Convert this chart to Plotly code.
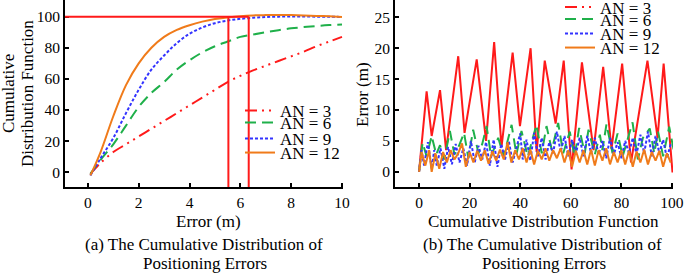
import plotly.graph_objects as go

W, H = 685, 274

# ---------- Left chart data: CDF of positioning errors ----------
err_x = [0.1, 0.5, 1, 1.5, 2, 2.5, 3, 3.5, 4, 4.5, 5, 5.5, 6, 6.5, 7, 7.5, 8, 8.5, 9, 9.5, 10]
cdf_an3 = [-1, 6, 13, 18, 23, 28, 33, 38, 43, 48, 53, 58, 62, 65.5, 68.5, 71.5, 74.5, 77.5, 81, 84, 87]
cdf_an6 = [-1, 8, 18, 30, 42, 51, 58, 66, 72, 77, 81, 84, 87, 88.5, 90, 91.3, 92.5, 93.3, 94, 94.6, 95]
cdf_an9 = [-2, 9, 22, 38, 53, 66, 75, 83, 89, 93, 95.8, 97.5, 98.6, 99.3, 99.8, 100, 100.1, 100.1, 100, 100, 99.8]
cdf_an12 = [-2, 13, 36, 56, 70, 80, 87, 91.5, 94.5, 96.8, 98.5, 99.5, 100.3, 100.8, 101, 101.1, 101, 100.8, 100.5, 100.2, 99.8]
ref_level = 100
ref_errors = [5.53, 6.33]

# ---------- Right chart data: error vs CDF ----------
an3_x = [0, 3.0, 5.0, 8.3, 10.7, 15.5, 18.0, 22.8, 26.5, 29.7, 32.6, 37.0, 39.9, 44.1, 46.5,
         49.7, 54.0, 57.2, 60.3, 64.4, 69.0, 72.8, 76.1, 80.3, 83.8, 90.3, 94.3, 96.7, 100.2]
an3_y = [0, 13.0, 5.8, 13.2, 3.5, 18.7, 6.3, 18.2, 5.0, 21.0, 4.0, 19.3, 7.4, 20.0, 3.2,
         18.0, 7.8, 18.0, 0.4, 17.7, 3.5, 17.0, 3.7, 17.5, 1.5, 18.0, 5.5, 17.5, -0.1]

an6_x = [0, 1.4, 3, 5, 6.8, 8.3, 10, 12.2, 14, 15.8, 17.8, 19.5, 21.4, 23.5, 25, 26.7, 28.5,
         31.3, 33.5, 36.6, 38.5, 40.5, 43, 46.4, 48.5, 50.4, 52.5, 55, 57, 59.6, 61.5, 63.3,
         65.5, 67, 69.5, 71.5, 72.5, 74.1, 76.5, 78.5, 80.5, 82.5, 84.4, 86.5, 88.5, 91.2,
         93, 94.5, 96.5, 98.9, 101]
an6_y = [0, 4.7, 2.5, 5.8, 2.8, 4.3, 2.0, 6.6, 2.8, 4.2, 6.3, 2.2, 6.8, 3.0, 4.5, 7.4, 2.5,
         5.5, 2.5, 7.6, 2.8, 6.6, 2.5, 7.6, 3.0, 7.4, 3.5, 7.9, 3.0, 6.5, 2.5, 7.1,
         3.0, 6.8, 2.8, 6.0, 3.5, 7.7, 3.0, 6.2, 2.5, 5.5, 8.0, 2.0, 5.5, 7.0,
         3.0, 6.5, 2.5, 7.3, 2.8]

an9_x = [0, 1, 2, 3.5, 5, 6, 7, 8.5, 10, 11.5, 13, 14.5, 16, 17.5, 19, 20.5, 22, 23.5, 25,
         26.5, 28, 29.5, 31, 32.5, 34, 35.5, 37, 38.5, 40, 41, 42.5, 44, 45.5, 47, 48.5, 50,
         51.5, 53, 54.5, 56, 57.5, 59, 60.5, 62, 63.5, 65, 66.5, 68, 69.5, 71, 72.5, 74,
         75.5, 77, 78.5, 80, 81.5, 83, 84.5, 86, 87.5, 89, 90.5, 92, 93.5, 95, 96.5, 98, 99.5]
an9_y = [0, 3.5, 1.0, 4.8, 0.5, 3.5, 1.0, 3.8, 0.5, 4.0, 1.2, 4.5, 1.5, 3.8, 1.0, 5.0, 1.5,
         4.2, 2.0, 4.8, 1.0, 5.2, 0.8, 4.5, 2.0, 5.0, 1.5, 4.0, 6.2, 2.0, 5.2, 1.8, 6.3, 2.5,
         5.5, 2.0, 4.8, 3.0, 6.5, 3.2, 5.8, 2.5, 5.2, 3.0, 5.5, 2.5, 5.8, 3.0, 5.5, 2.8, 5.0,
         2.2, 5.5, 2.8, 4.8, 2.2, 5.0, 3.0, 5.5, 2.8, 6.0, 3.0, 6.5, 2.5, 5.8, 3.0, 5.2, 2.2, 4.5]

an12_x = [0, 1, 2.5, 4, 5, 6.5, 8, 9.5, 11, 12.5, 14, 15.5, 17, 18.5, 20, 21.5, 23, 24.5, 26,
          27.5, 29, 30.5, 32, 33.5, 35, 36.5, 38, 39.5, 41, 42.5, 44, 45.5, 47, 48.5, 50,
          51.5, 53, 54.5, 56, 57.5, 59, 60.5, 62, 63.5, 65, 66.5, 68, 69.5, 71, 72.5, 74,
          75.5, 77, 78.5, 80, 81.5, 83, 84.5, 86, 87.5, 89, 90.5, 92, 93.5, 95, 96.5, 98, 99.5]
an12_y = [0, 3.2, 1.0, 3.5, 0.0, 3.0, 0.5, 3.2, 1.5, 3.5, 2.0, 3.0, 4.6, 0.8, 3.2, 1.5, 3.4,
          1.8, 3.5, 1.3, 3.3, 1.8, 3.6, 2.0, 4.8, 1.5, 3.5, 2.0, 3.8, 1.5, 3.6, 1.2, 3.4, 2.0,
          3.8, 1.8, 3.5, 2.2, 3.8, 1.5, 3.5, 0.8, 3.4, 1.5, 3.5, 1.2, 3.6, 1.0, 3.5, 1.8, 3.8,
          1.2, 3.2, 1.5, 3.5, 1.2, 3.4, 0.8, 3.3, 1.5, 3.6, 1.2, 3.2, 1.8, 3.4, 0.8, 3.0, 1.5]

series_names = ["AN = 3", "AN = 6", "AN = 9", "AN = 12"]
colors = ["#ff1a1a", "#1fb04a", "#3333ff", "#f07b1a"]
dashes = ["12px,5px,2px,5px,2px,5px", "11px,6px", "3px,2px", "solid"]

FONT = "Liberation Serif"
FS = 17

fig = go.Figure()

left_y = [cdf_an3, cdf_an6, cdf_an9, cdf_an12]
for i, yv in enumerate(left_y):
    fig.add_trace(go.Scatter(
        x=err_x, y=yv, mode="lines", name=series_names[i],
        line=dict(color=colors[i], width=2, dash=dashes[i], shape="spline"),
        xaxis="x", yaxis="y", legend="legend" if i == 0 else f"legend{i+1}"))

right_x = [an3_x, an6_x, an9_x, an12_x]
right_y = [an3_y, an6_y, an9_y, an12_y]
for i in range(4):
    solid_data = (i == 0)
    fig.add_trace(go.Scatter(
        x=right_x[i], y=right_y[i], mode="lines", name=series_names[i],
        line=dict(color=colors[i], width=2, dash="solid" if solid_data else dashes[i]),
        xaxis="x2", yaxis="y2", showlegend=not solid_data,
        legend=f"legend{i+5}"))
    if solid_data:
        fig.add_trace(go.Scatter(
            x=[None], y=[None], mode="lines", name=series_names[i],
            line=dict(color=colors[i], width=2, dash=dashes[i]),
            xaxis="x2", yaxis="y2", legend=f"legend{i+5}"))

# reference lines on left chart
shapes = [dict(type="line", xref="x", yref="y", x0=-0.9, x1=ref_errors[1], y0=ref_level, y1=ref_level,
               line=dict(color="#ff1a1a", width=2))]
for xe in ref_errors:
    shapes.append(dict(type="line", xref="x", yref="y domain", x0=xe, x1=xe, y0=0,
                       y1=(ref_level + 9.45) / (110.7 + 9.45),
                       line=dict(color="#ff1a1a", width=2)))

axis_common = dict(showline=True, linecolor="black", linewidth=2, ticks="inside", ticklen=4,
                   tickwidth=1.5, tickcolor="black", showgrid=False, zeroline=False,
                   tickfont=dict(family=FONT, size=15.5, color="black"), mirror=False,
                   automargin=False)

ybot = (274 - 187) / 274
layout = dict(
    width=W, height=H, margin=dict(l=0, r=0, t=0, b=0, pad=0, autoexpand=False),
    paper_bgcolor="white", plot_bgcolor="white",
    xaxis=dict(domain=[65 / W, 343 / W], range=[-0.9, 10.04], tickvals=[0, 2, 4, 6, 8, 10],
               anchor="y", **axis_common),
    yaxis=dict(domain=[ybot, 1], range=[-9.45, 110.7], tickvals=[0, 20, 40, 60, 80, 100],
               anchor="x", **axis_common),
    xaxis2=dict(domain=[395 / W, 673 / W], range=[-9.5, 100.4], tickvals=[0, 20, 40, 60, 80, 100],
                anchor="y2", **axis_common),
    yaxis2=dict(domain=[ybot, 1], range=[-2.46, 27.8], tickvals=[0, 5, 10, 15, 20, 25],
                anchor="x2", **axis_common),
    shapes=shapes,
    showlegend=True,
)

leg_base = dict(bgcolor="rgba(0,0,0,0)", borderwidth=0, itemwidth=30,
                font=dict(family=FONT, size=FS, color="black"),
                xanchor="left", yanchor="middle", tracegroupgap=0)
left_rows = [111, 123, 139, 153]
right_rows = [7.5, 19.5, 34, 48]
for i in range(4):
    key = "legend" if i == 0 else f"legend{i+1}"
    layout[key] = dict(x=240 / W, y=1 - left_rows[i] / H, **leg_base)
    layout[f"legend{i+5}"] = dict(x=560 / W, y=1 - right_rows[i] / H, **leg_base)

tf = dict(family=FONT, size=FS, color="black")


def ann(text, xp, yp, angle=0):
    return dict(text=text, x=xp / W, y=1 - yp / H, xref="paper", yref="paper", textangle=angle,
                showarrow=False, font=tf, xanchor="center", yanchor="middle")


annotations = [
    ann("Cumulative", 8, 94, -90),
    ann("Distribution Function", 27, 94, -90),
    ann("Error (m)", 208, 221),
    ann("(a) The Cumulative Distribution of", 204, 244),
    ann("Positioning Errors", 205, 263),
    ann("Error (m)", 362, 95, -90),
    ann("Cumulative Distribution Function", 543, 221),
    ann("(b) The Cumulative Distribution of", 542, 244),
    ann("Positioning Errors", 544, 263),
]
layout["annotations"] = annotations

fig.update_layout(**layout)
fig.write_html("out.html", config={"displayModeBar": False},
               post_script="document.body.style.margin='0';document.body.style.overflow='hidden';")
